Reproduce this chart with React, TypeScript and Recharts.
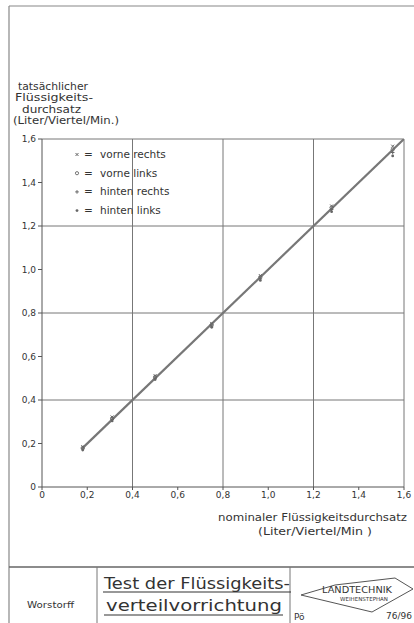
import React from 'react';
import { ComposedChart, XAxis, YAxis, Scatter, ReferenceLine } from 'recharts';

const xTicks = [0, 0.2, 0.4, 0.6, 0.8, 1.0, 1.2, 1.4, 1.6];
const yTicks = [0, 0.2, 0.4, 0.6, 0.8, 1.0, 1.2, 1.4, 1.6];
const gridValues = [0.4, 0.8, 1.2, 1.6];

const nominal = [0.18, 0.31, 0.5, 0.75, 0.965, 1.28, 1.55];
const vorneRechts = [0.185, 0.322, 0.512, 0.752, 0.972, 1.292, 1.567];
const vorneLinks = [0.18, 0.316, 0.506, 0.746, 0.965, 1.285, 1.552];
const hintenRechts = [0.175, 0.31, 0.5, 0.74, 0.957, 1.276, 1.538];
const hintenLinks = [0.17, 0.304, 0.494, 0.734, 0.95, 1.266, 1.522];

const fitX = [0.18, 1.6];
const fitY = [0.18, 1.6];

const legendLabels = ['vorne rechts', 'vorne links', 'hinten rechts', 'hinten links'];

const toPts = (ys: number[]) => nominal.map((x, i) => ({ x, y: ys[i] }));
const fitLine = fitX.map((x, i) => ({ x, y: fitY[i] }));

const FONT = "'DejaVu Sans', sans-serif";
const INK = '#555';
const TXT = '#333';

const fmt = (v: number) => (v === 0 ? '0' : v.toFixed(1).replace('.', ','));

const markX = (p: any) => (
  <g stroke="#666" strokeWidth={1}>
    <line x1={p.cx - 1.5} y1={p.cy - 1.5} x2={p.cx + 1.5} y2={p.cy + 1.5} />
    <line x1={p.cx - 1.5} y1={p.cy + 1.5} x2={p.cx + 1.5} y2={p.cy - 1.5} />
  </g>
);
const markO = (p: any) => <circle cx={p.cx} cy={p.cy} r={1.6} fill="none" stroke="#666" strokeWidth={0.9} />;
const markPlus = (p: any) => (
  <g stroke="#666" strokeWidth={1}>
    <line x1={p.cx - 1.8} y1={p.cy} x2={p.cx + 1.8} y2={p.cy} />
    <line x1={p.cx} y1={p.cy - 1.8} x2={p.cx} y2={p.cy + 1.8} />
  </g>
);
const markDot = (p: any) => <circle cx={p.cx} cy={p.cy} r={1.4} fill="#666" />;
const markers = [markX, markO, markPlus, markDot];
const noShape = () => <g />;

export default function App() {
  const series = [vorneRechts, vorneLinks, hintenRechts, hintenLinks];
  return (
    <div style={{ position: 'absolute', left: 0, top: 0, width: 414, height: 623, background: '#fff', fontFamily: FONT }}>
      <ComposedChart width={414} height={623} margin={{ top: 139, right: 10, bottom: 106, left: 12 }}>
        <XAxis
          type="number"
          dataKey="x"
          domain={[0, 1.6]}
          ticks={xTicks}
          tickFormatter={fmt}
          height={30}
          stroke={INK}
          tickSize={3}
          tick={{ fill: TXT, fontSize: 9, fontFamily: FONT }}
          allowDataOverflow
        />
        <YAxis
          type="number"
          dataKey="y"
          domain={[0, 1.6]}
          ticks={yTicks}
          tickFormatter={fmt}
          width={30}
          stroke={INK}
          tickSize={4}
          tick={{ fill: TXT, fontSize: 9, fontFamily: FONT }}
          allowDataOverflow
        />
        {gridValues.map((v) => (
          <ReferenceLine key={'v' + v} x={v} stroke="#777" strokeWidth={1} />
        ))}
        {gridValues.map((v) => (
          <ReferenceLine key={'h' + v} y={v} stroke="#777" strokeWidth={1} />
        ))}
        <Scatter
          data={fitLine}
          line={{ stroke: '#777', strokeWidth: 2.2 }}
          shape={noShape}
          isAnimationActive={false}
        />
        {series.map((s, i) => (
          <Scatter key={i} data={toPts(s)} shape={markers[i]} isAnimationActive={false} />
        ))}
      </ComposedChart>
      <svg width={414} height={623} style={{ position: 'absolute', left: 0, top: 0, pointerEvents: 'none' }}>
        {/* outer frame */}
        <line x1={9} y1={6} x2={414} y2={6} stroke="#888" strokeWidth={1.2} />
        <line x1={9} y1={6} x2={9} y2={623} stroke="#888" strokeWidth={1.2} />
        <line x1={9} y1={567} x2={414} y2={567} stroke="#666" strokeWidth={1.5} />
        <line x1={97} y1={567} x2={97} y2={623} stroke="#777" strokeWidth={1} />
        <line x1={290} y1={567} x2={290} y2={623} stroke="#777" strokeWidth={1} />

        {/* y axis label */}
        <g fontFamily={FONT} fontSize={10} fill={TXT}>
          <text x={18} y={90} textLength={70} lengthAdjust="spacingAndGlyphs">tatsächlicher</text>
          <text x={15} y={101} textLength={78} lengthAdjust="spacingAndGlyphs">Flüssigkeits-</text>
          <text x={22} y={113} textLength={59} lengthAdjust="spacingAndGlyphs">durchsatz</text>
          <text x={13} y={124} textLength={106} lengthAdjust="spacingAndGlyphs">(Liter/Viertel/Min.)</text>
        </g>

        {/* x axis label */}
        <g fontFamily={FONT} fontSize={10} fill={TXT}>
          <text x={218} y={521} textLength={189} lengthAdjust="spacingAndGlyphs">nominaler  Flüssigkeitsdurchsatz</text>
          <text x={258} y={535} textLength={114} lengthAdjust="spacingAndGlyphs">(Liter/Viertel/Min )</text>
        </g>

        {/* legend */}
        <g fontFamily={FONT} fontSize={10.5} fill={TXT}>
          {legendLabels.map((l, i) => {
            const y = 158 + i * 18.7;
            const M = markers[i];
            return (
              <g key={l}>
                {M({ cx: 77, cy: y - 3.5 })}
                <text x={84} y={y}>=</text>
                <text x={100} y={y}>{l}</text>
              </g>
            );
          })}
        </g>

        {/* title block */}
        <text x={27} y={608} fontFamily={FONT} fontSize={9.5} fill={TXT} textLength={47} lengthAdjust="spacingAndGlyphs">Worstorff</text>
        <g fontFamily={FONT} fontSize={16} fill="#333">
          <text x={104} y={589} textLength={186} lengthAdjust="spacingAndGlyphs">Test der Flüssigkeits-</text>
          <text x={106} y={611} textLength={176} lengthAdjust="spacingAndGlyphs">verteilvorrichtung</text>
        </g>
        <line x1={103} y1={592} x2={291} y2={592} stroke="#333" strokeWidth={1.2} />
        <line x1={104} y1={615} x2={283} y2={615} stroke="#333" strokeWidth={1.2} />

        <polygon points="301,595 335,585 395,578 413,589 372,612" fill="none" stroke="#555" strokeWidth={1} />
        <text x={322} y={593} fontFamily={FONT} fontSize={9} fill={TXT} textLength={70} lengthAdjust="spacingAndGlyphs">LANDTECHNIK</text>
        <text x={340} y={601} fontFamily={FONT} fontSize={5.5} fill={TXT} textLength={48} lengthAdjust="spacingAndGlyphs">WEIHENSTEPHAN</text>
        <text x={294} y={620} fontFamily={FONT} fontSize={9} fill={TXT}>Pö</text>
        <text x={412} y={619} fontFamily={FONT} fontSize={9} fill={TXT} textAnchor="end">76/96</text>
      </svg>
    </div>
  );
}
